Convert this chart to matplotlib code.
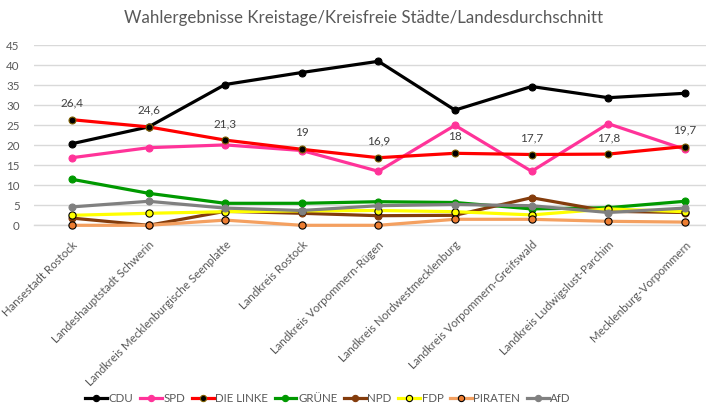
import matplotlib
matplotlib.use("Agg")
import matplotlib.pyplot as plt
from matplotlib.lines import Line2D

plt.rcParams['font.family'] = ['Lato', 'DejaVu Sans']

categories = ["Hansestadt Rostock", "Landeshauptstadt Schwerin",
              "Landkreis Mecklenburgische Seenplatte", "Landkreis Rostock",
              "Landkreis Vorpommern-Rügen", "Landkreis Nordwestmecklenburg",
              "Landkreis Vorpommern-Greifswald", "Landkreis Ludwigslust-Parchim",
              "Mecklenburg-Vorpommern"]

cdu = [20.4, 24.6, 35.2, 38.2, 41.0, 28.8, 34.7, 31.9, 33.0]
spd = [16.9, 19.4, 20.1, 18.7, 13.5, 25.0, 13.5, 25.4, 19.0]
linke = [26.4, 24.6, 21.3, 19.0, 16.9, 18.0, 17.7, 17.8, 19.7]
gruene = [11.5, 8.0, 5.5, 5.5, 5.9, 5.7, 4.1, 4.4, 6.0]
npd = [1.8, 0.0, 3.5, 3.0, 2.4, 2.5, 6.9, 3.5, 3.2]
fdp = [2.5, 3.0, 3.4, 3.6, 3.7, 3.4, 2.6, 4.1, 3.4]
piraten = [0.0, 0.0, 1.3, 0.0, 0.0, 1.5, 1.5, 1.0, 0.8]
afd = [4.6, 6.0, 4.3, 3.7, 4.9, 5.2, 4.9, 3.2, 4.3]

linke_labels = ["26,4", "24,6", "21,3", "19", "16,9", "18", "17,7", "17,8", "19,7"]

yticks = [0, 5, 10, 15, 20, 25, 30, 35, 40, 45]
title = "Wahlergebnisse Kreistage/Kreisfreie Städte/Landesdurchschnitt"

W, H = 706, 416
fig = plt.figure(figsize=(W / 100, H / 100), dpi=100)
left_px, right_px = 33.7, 706
top_px, bot_px = 45.3, 225.3
ax = fig.add_axes([left_px / W, 1 - bot_px / H, (right_px - left_px) / W, (bot_px - top_px) / H])

x = list(range(len(categories)))
step = 76.6
ax.set_xlim(-0.5, -0.5 + (right_px - left_px) / step)
ax.set_ylim(0, 45)

series = [
    ("CDU", cdu, dict(color="#000000", mfc="#000000", mec="#000000")),
    ("SPD", spd, dict(color="#FF3399", mfc="#FF3399", mec="#FF3399")),
    ("DIE LINKE", linke, dict(color="#FF0000", mfc="#000000", mec="#7F6000")),
    ("GRÜNE", gruene, dict(color="#009900", mfc="#009900", mec="#009900")),
    ("NPD", npd, dict(color="#843C0C", mfc="#843C0C", mec="#843C0C")),
    ("FDP", fdp, dict(color="#FFFF00", mfc="#FFFF00", mec="#000000")),
    ("PIRATEN", piraten, dict(color="#F4A060", mfc="#ED7D31", mec="#000000")),
    ("AfD", afd, dict(color="#808080", mfc="#808080", mec="#808080")),
]

handles = []
for name, vals, st in series:
    ms = 5.2 if st["mec"] == "#000000" and st["mfc"] != "#000000" else 5
    ax.plot(x, vals, color=st["color"], lw=2.3, marker="o", ms=ms,
            mfc=st["mfc"], mec=st["mec"], mew=0.8, clip_on=False, zorder=3)
    handles.append(Line2D([0], [0], color=st["color"], lw=2.3, marker="o", ms=4.5,
                          mfc=st["mfc"], mec=st["mec"], mew=0.8))

for xi, v, lab in zip(x, linke, linke_labels):
    ax.annotate(lab, (xi, v), xytext=(0, 12), textcoords="offset points",
                ha="center", va="center", fontsize=8.5, color="#404040")

ax.set_yticks(yticks)
ax.set_yticklabels([str(t) for t in yticks])
ax.set_xticks(x)
ax.set_xticklabels(categories, rotation=45, ha="right", rotation_mode="anchor")
ax.tick_params(axis="both", length=0, labelsize=8.3, labelcolor="#595959")
ax.tick_params(axis="y", pad=10)
ax.tick_params(axis="x", pad=10)
ax.grid(axis="y", color="#D9D9D9", lw=1)
ax.set_axisbelow(True)
for s in ["top", "right", "left"]:
    ax.spines[s].set_visible(False)
ax.spines["bottom"].set_color("#D9D9D9")
ax.spines["bottom"].set_linewidth(1)

fig.text(364 / W, 1 - 18 / H, title, ha="center", va="center", fontsize=12.2, color="#595959")

fig.legend(handles, [s[0] for s in series], loc="center", bbox_to_anchor=(328 / W, 1 - 399 / H),
           ncol=8, frameon=False, fontsize=8.3, labelcolor="#595959",
           handlelength=1.9, handletextpad=0.15, columnspacing=0.55, borderpad=0)

fig.savefig("out.png", dpi=100)
